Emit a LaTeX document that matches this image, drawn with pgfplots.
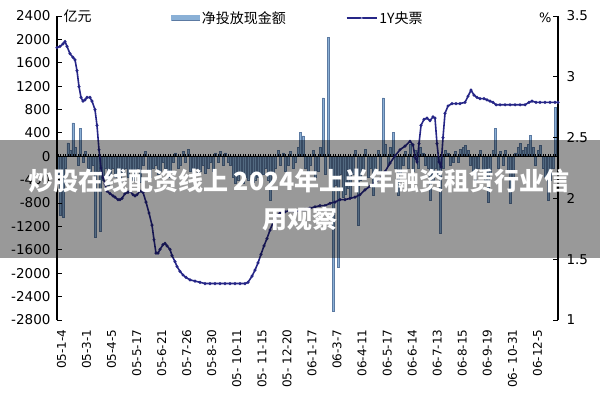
\documentclass[border=0pt]{standalone}
\usepackage{pgfplots}
\pgfplotsset{compat=1.18}
\usepackage{fontspec}
\setmainfont{DejaVu Sans}
\newfontfamily\cjk{Noto Sans CJK SC}
\definecolor{barc}{RGB}{138,176,214}
\definecolor{bard}{RGB}{92,122,162}
\definecolor{linec}{RGB}{38,38,135}
\definecolor{markc}{RGB}{150,150,205}

\pgfplotstableread{
x y
58 -300
60.5 -1000
63 -1040
65.5 -200
68 230
70.5 100
73 570
75.5 150
78 -150
80.5 480
83 -100
85.5 80
88 -200
90.5 -300
93 -150
95.5 -1380
98 -250
100.5 -1280
103 -400
105.5 -200
108 -500
110.5 -300
113 -200
115.5 -350
118 -250
120.5 -450
123 -300
125.5 -200
128 -350
130.5 -250
133 -400
135.5 -300
138 -200
140.5 -450
143 -150
145.5 80
148 -250
150.5 -350
153 -200
155.5 -150
158 -300
160.5 -250
163 -100
165.5 -200
168 -350
170.5 -250
173 -100
175.5 60
178 -200
180.5 -150
183 80
185.5 -100
188 120
190.5 -250
193 -300
195.5 -200
198 -290
200.5 -250
203 -150
205.5 -290
208 -200
210.5 -100
213 -250
215.5 60
218 -100
220.5 80
223 -150
225.5 60
228 -100
230.5 -150
233 -350
235.5 -460
238 -400
240.5 -300
243 -460
245.5 -350
248 -400
250.5 -300
253 -450
255.5 -400
258 -350
260.5 -460
263 -300
265.5 -200
268 -400
270.5 -750
273 -300
275.5 -200
278 100
280.5 -150
283 60
285.5 -250
288 -150
290.5 80
293 -200
295.5 -100
298 150
300.5 410
303 350
305.5 -200
308 -300
310.5 -150
313 100
315.5 -350
318 -250
320.5 150
323 1000
325.5 -300
328 2040
330.5 -400
333 -2650
335.5 -500
338 -1900
340.5 -300
343 -700
345.5 -650
348 -550
350.5 -700
353 -300
355.5 100
358 -1180
360.5 -400
363 -250
365.5 120
368 -350
370.5 -200
373 -660
375.5 -300
378 100
380.5 -250
383 1000
385.5 200
388 -150
390.5 150
393 410
395.5 -200
398 -660
400.5 -300
403 -150
405.5 80
408 -200
410.5 200
413 -250
415.5 100
418 -200
420.5 150
423 60
425.5 -150
428 -200
430.5 -750
433 -400
435.5 -200
438 -300
440.5 -1320
443 -200
445.5 100
448 60
450.5 -150
453 -100
455.5 80
458 -100
460.5 120
463 150
465.5 190
468 100
470.5 -150
473 -250
475.5 -440
478 -200
480.5 100
483 -250
485.5 -400
488 -780
490.5 -300
493 100
495.5 480
498 -200
500.5 80
503 -150
505.5 100
508 -250
510.5 -800
513 -350
515.5 60
518 150
520.5 220
523 100
525.5 150
528 200
530.5 360
533 150
535.5 -150
538 100
540.5 190
543 -200
545.5 -350
548 -750
550.5 -400
553 -200
555.5 840
}\bars

\pgfplotstableread{
x r
57 3.24
60 3.25
63 3.27
65 3.29
67 3.25
70 3.19
73 3.16
75 3.14
77 3.05
79 2.92
81 2.83
83 2.80
85 2.81
87 2.83
90 2.83
92 2.80
95 2.73
97 2.60
99 2.40
101 2.25
103 2.17
105 2.12
107 2.06
110 2.04
113 2.02
115 2.01
118 1.99
120 1.99
122 2.00
125 2.04
128 2.05
130 2.06
133 2.03
135 2.02
137 2.03
140 2.06
143 2.05
146 1.97
149 1.88
152 1.78
154 1.66
156 1.55
158 1.55
160 1.58
163 1.62
165 1.63
167 1.61
170 1.58
172 1.53
175 1.48
177 1.44
180 1.40
183 1.37
186 1.35
190 1.33
195 1.32
200 1.31
205 1.30
210 1.30
215 1.30
220 1.30
225 1.30
230 1.30
235 1.30
240 1.30
245 1.30
248 1.31
252 1.36
255 1.41
258 1.47
261 1.54
264 1.61
267 1.67
270 1.74
273 1.80
276 1.85
280 1.88
285 1.89
290 1.90
295 1.89
300 1.90
305 1.91
310 1.92
315 1.93
320 1.94
325 1.94
330 1.96
335 1.97
340 1.99
345 1.99
350 2.00
355 2.01
360 2.03
365 2.07
370 2.10
375 2.13
380 2.16
385 2.22
390 2.29
395 2.35
400 2.40
405 2.43
410 2.47
413 2.44
415 2.34
417 2.30
419 2.45
421 2.60
424 2.65
427 2.66
430 2.64
433 2.67
435 2.66
437 2.45
439 2.30
441 2.26
443 2.50
445 2.70
448 2.76
452 2.78
456 2.78
460 2.78
465 2.79
468 2.84
471 2.89
474 2.85
477 2.83
480 2.82
484 2.82
487 2.81
490 2.80
493 2.79
496 2.77
500 2.77
505 2.77
510 2.77
515 2.77
520 2.77
525 2.77
529 2.79
532 2.80
536 2.79
540 2.79
545 2.79
550 2.79
555 2.79
558 2.79
}\rate

\begin{document}
\begin{tikzpicture}[x=1pt,y=1pt]
\useasboundingbox (0,0) rectangle (600,400);
\pgfplotsset{base/.style={scale only axis, width=501pt, height=304pt,
  at={(57pt,80pt)}, anchor=south west, xmin=57, xmax=558,
  /pgf/number format/assume math mode=true,
  /pgf/number format/1000 sep={}}}

% bars and zero line
\begin{axis}[base, ymin=-2800, ymax=2400, axis y line=none,
  axis x line*=middle, axis on top,
  x axis line style={-, line width=1pt, black},
  xtick={58,60.5,...,556}, xticklabels={},
  tick align=inside, major tick length=2.5pt,
  x tick style={black, line width=0.5pt}]
\addplot[ybar, bar width=2pt, fill=barc, draw=bard, line width=0.3pt] table[x=x,y=y] {\bars};
\end{axis}

% left axis, x labels, legend
\begin{axis}[base, ymin=-2800, ymax=2400,
  axis y line*=left, axis x line*=bottom,
  x axis line style={draw=none},
  y axis line style={line width=1.2pt, -},
  major x tick style={draw=none},
  xtick={61.5,86.55,111.6,136.65,161.7,186.75,211.8,236.85,261.9,286.95,312,337.05,362.1,387.15,412.2,437.25,462.3,487.35,512.4,537.45},
  xticklabels={05-1-4,05-3-1,05-4-5,05-5-17,05-6-21,05-7-26,05-8-30,05- 10-11,05- 11-15,05- 12-20,06-1-17,06-3-7,06-4-11,06-5-17,06-6-14,06-7-13,06-8-15,06-9-19,06- 10-31,06-12-5},
  xticklabel style={rotate=90, anchor=east, font=\fontsize{12}{12}\selectfont, yshift=0pt, xshift=-6pt},
  ytick={-2800,-2400,...,2400},
  yticklabel style={font=\fontsize{13.5}{14}\selectfont, xshift=-3pt},
  tick align=inside, major tick length=5pt,
  y tick style={black, line width=1pt},
  legend columns=2,
  legend style={at={(0.222,0.993)}, anchor=west, draw=none, fill=none,
    font=\cjk\fontsize{14}{14}\selectfont,
    /tikz/every even column/.append style={column sep=58pt}}]
\addlegendimage{legend image code/.code={\fill[barc] (0pt,-2.5pt) rectangle (28pt,2.5pt); \draw[bard, line width=0.4pt] (0pt,-2.5pt) -- (28pt,-2.5pt);}}
\addlegendentry{净投放现金额}
\addlegendimage{legend image code/.code={\draw[linec, line width=1.6pt] (0pt,0pt) -- (30pt,0pt); \fill[markc] (15pt,0pt) circle (0.8pt);}}
\addlegendentry{1Y央票}
\end{axis}

% right axis, rate line
\begin{axis}[base, ymin=1, ymax=3.5,
  axis y line*=right, axis x line=none,
  y axis line style={line width=1.2pt, -},
  ytick={1,1.5,2,2.5,3,3.5},
  yticklabels={1,1.5,2,2.5,3,3.5},
  yticklabel style={font=\fontsize{13.5}{14}\selectfont, xshift=5pt},
  tick align=inside, major tick length=5pt,
  y tick style={black, line width=1pt}]
\addplot[linec, line width=1.6pt, mark=*, mark size=0.6pt, mark options={fill=markc, draw=none}] table[x=x,y=r] {\rate};
\end{axis}

\node[anchor=west, font=\cjk\fontsize{14}{14}\selectfont] at (60,384) {亿元};
\node[anchor=east, font=\fontsize{13}{13}\selectfont] at (555,382) {\%};

% overlay band
\fill[black, opacity=0.4] (0,142) rectangle (600,260);
\node[text=white, font=\cjk\bfseries\fontsize{25}{25}\selectfont] at (299,219) {炒股在线配资线上 2024年上半年融资租赁行业信};
\node[text=white, font=\cjk\bfseries\fontsize{25}{25}\selectfont] at (300,181.5) {用观察};
\end{tikzpicture}
\end{document}
